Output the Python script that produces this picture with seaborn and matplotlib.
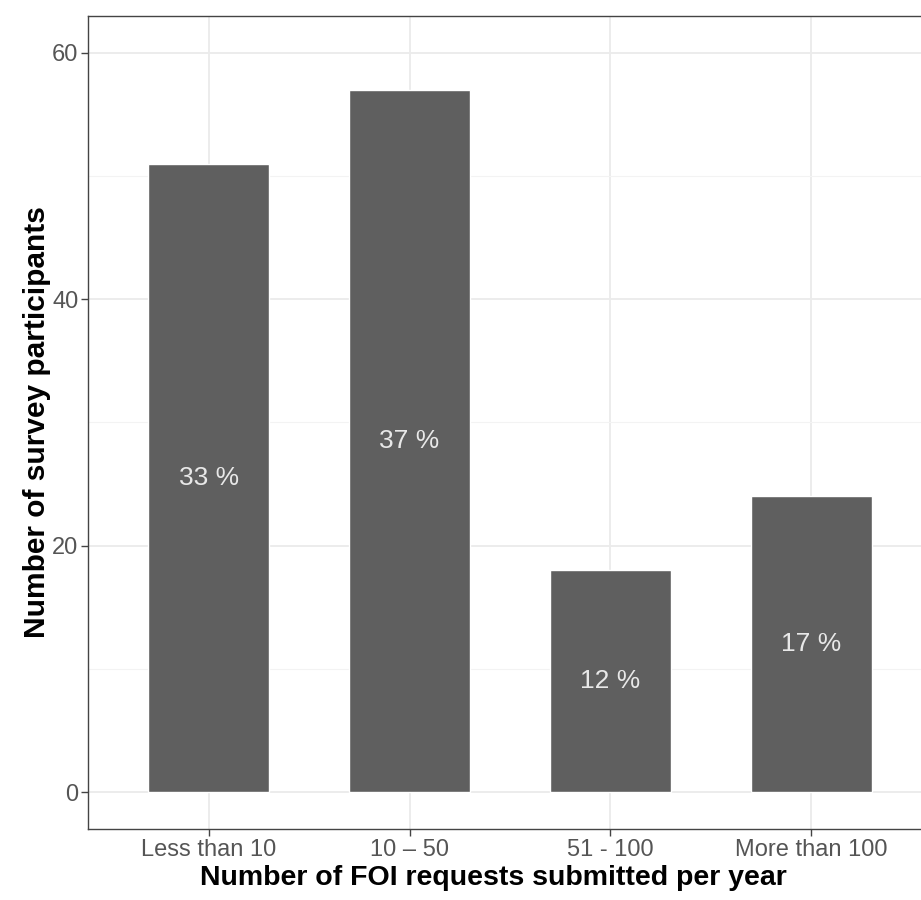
import pandas as pd
import matplotlib.pyplot as plt
import seaborn as sns

# --- datos ---
categorias = ['Less than 10', '10 – 50', '51 - 100', 'More than 100']
participantes = [51, 57, 18, 24]
porcentajes = ['33 %', '37 %', '12 %', '17 %']

df = pd.DataFrame({'categoria': categorias, 'n': participantes, 'pct': porcentajes})

sns.set_style('white')
plt.rcParams['font.family'] = ['Liberation Sans', 'DejaVu Sans']

fig = plt.figure(figsize=(9.21, 9.0), dpi=100)
ax = fig.add_axes([88 / 921, 1 - 829 / 900, (932 - 88) / 921, (829 - 16) / 900])

# --- barras ---
sns.barplot(data=df, x='categoria', y='n', color='#5f5f5f', saturation=1,
            width=0.6, ax=ax, zorder=3)

# --- etiquetas de porcentaje a media altura ---
for i, row in df.iterrows():
    ax.text(i, row['n'] / 2, row['pct'], ha='center', va='center',
            color='#e8e8e8', fontsize=19, zorder=4)

ax.set_xlim(-0.6, 3.6)
ax.set_ylim(-3, 63)
ax.set_yticks([0, 20, 40, 60])
ax.set_yticks([10, 30, 50], minor=True)

# --- rejilla estilo theme_bw ---
ax.grid(True, which='major', color='#ebebeb', linewidth=1.3, zorder=0)
ax.yaxis.grid(True, which='minor', color='#f3f3f3', linewidth=0.8, zorder=0)
ax.set_axisbelow(True)

for s in ax.spines.values():
    s.set_color('#444444')
    s.set_linewidth(1.0)

ax.tick_params(axis='both', which='major', length=5, width=1, color='#444444',
               labelcolor='#555555', labelsize=17, pad=2, left=True, bottom=True)
ax.tick_params(axis='y', which='minor', length=0)

ax.set_xlabel('Number of FOI requests submitted per year', fontsize=20.5,
              fontweight='bold', color='black')
ax.xaxis.set_label_coords(0.48, -0.044)
ax.set_ylabel('Number of survey participants', fontsize=21.5,
              fontweight='bold', color='black', labelpad=1)

fig.savefig('out.png', dpi=100, facecolor='white')
